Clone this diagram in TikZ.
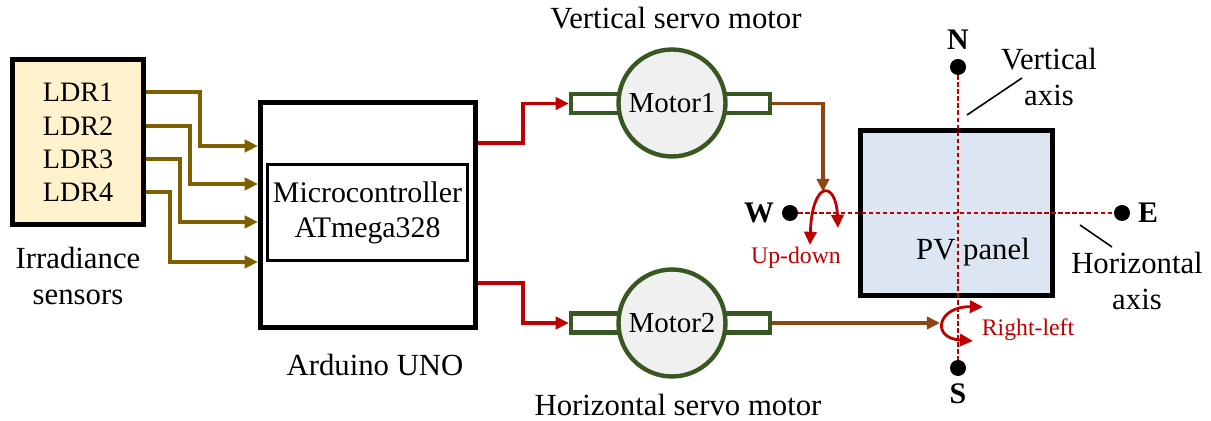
\documentclass[tikz,border=0pt]{standalone}
\usepackage{fontspec}
\setmainfont{Liberation Serif}
\usetikzlibrary{arrows.meta,positioning,calc}
\definecolor{ldrcol}{RGB}{127,96,0}
\definecolor{drvcol}{RGB}{140,70,20}
\definecolor{ctlred}{RGB}{192,0,0}
\definecolor{mgreen}{RGB}{56,87,35}
\definecolor{mgray}{RGB}{240,240,240}
\definecolor{ldrfill}{RGB}{255,242,204}
\definecolor{pvfill}{RGB}{220,230,242}

\begin{document}
\begin{tikzpicture}[x=0.02cm,y=-0.02cm,>={Triangle[length=7.5pt,width=7pt]},
	font=\fontsize{17.5}{20}\selectfont,
	box/.style={draw,line width=3pt,inner sep=0pt},
	motor/.style={circle,draw=mgreen,fill=mgray,line width=2.5pt,minimum size=2.14cm,inner sep=0pt,font=\fontsize{16.5}{20}\selectfont},
	shaft/.style={draw=mgreen,fill=white,line width=2.5pt,minimum height=0.38cm,inner sep=0pt},
	dot/.style={circle,fill=black,minimum size=0.32cm,inner sep=0pt},
	dir/.style={font=\fontsize{17}{20}\selectfont\bfseries},
	ldrline/.style={ldrcol,line width=2pt,->},
	ctl/.style={ctlred,line width=2pt,->},
	drv/.style={drvcol,line width=2pt,->},
	axis/.style={ctlred,line width=1.2pt,dash pattern=on 2.5pt off 1.5pt},
	rot/.style={ctlred,line width=1.6pt,<->},
	rotlab/.style={ctlred,font=\fontsize{13.5}{15}\selectfont},
	lead/.style={black,line width=0.9pt}]
		\useasboundingbox (0,0) rectangle (1211,421);
		% sensors
		\node[box,fill=ldrfill,minimum width=2.62cm,minimum height=3.3cm] (ldr) at (78,142) {};
		\foreach \i/\y in {1/92,2/126,3/159,4/192}{
		\node[font=\fontsize{16}{20}\selectfont] (l\i) at (78,\y) {LDR\i};}
		\node[align=center] (irr) at (78,276) {Irradiance\\sensors};
		% arduino
		\node[box,minimum width=4.3cm,minimum height=4.5cm] (ard) at (368,215) {};
		\node[draw,line width=1.8pt,minimum width=3.92cm,minimum height=1.92cm,align=center,font=\fontsize{17}{20}\selectfont] (mcu) at (367.5,212.5) {Microcontroller\\ATmega328};
		\node (ardlab) at (375,365) {Arduino UNO};
		\foreach \i/\tx/\y in {1/54/146,2/44/184,3/34/222,4/24/262}{
		\coordinate (a\i) at (ard.west |- 0,\y);
		\draw[ldrline] (l\i -| ldr.east) -- ++(\tx,0) |- (a\i);}
		% motors
		\node[shaft,minimum width=1.08cm] (m1l) at (598,103.5) {};
		\node[shaft,minimum width=1.0cm] (m1r) at (745,103.5) {};
		\node[motor] (m1) at (672,103) {Motor1};
		\node (m1lab) at (676,18) {Vertical servo motor};
		\node[shaft,minimum width=1.08cm] (m2l) at (598,323) {};
		\node[shaft,minimum width=1.0cm] (m2r) at (745,323) {};
		\node[motor] (m2) at (672,323) {Motor2};
		\node (m2lab) at (678,405) {Horizontal servo motor};
		\draw[ctl] ([yshift=1.44cm]ard.east) -- ++(45,0) |- (m1l.west);
		\draw[ctl] ([yshift=-1.36cm]ard.east) -- ++(45,0) |- (m2l.west);
		% panel
		\node[box,fill=pvfill,minimum width=3.84cm,minimum height=3.3cm] (pv) at (956.5,213) {};
		\node (pvlab) at (973,252) {PV panel};
		\node[dot] (n) at (958,67) {};
		\node[dot] (s) at (958,368) {};
		\node[dot] (w) at (790,213) {};
		\node[dot] (e) at (1122,213) {};
		\node[dir] at (958,40) {N};
		\node[dir] at (958,394) {S};
		\node[dir] at (759,213) {W};
		\node[dir] at (1148,213) {E};
		\draw[axis] (n) -- (s);
		\draw[axis] (w) -- (e);
		% rotations
		\coordinate (ud) at (823,192);
		\coordinate (rl) at (940,323);
		\draw[drv] (m1r.east) -| (ud);
		\draw[drv] (m2r.east) -- (rl);
		\draw[rot] (810,245) .. controls (812,180) and (836,180) .. (838,228);
		\draw[rot] (983,307) .. controls (938,306) and (930,338) .. (973,341);
		\node[rotlab] at (796,258) {Up-down};
		\node[rotlab] at (1028,330) {Right-left};
		% axis labels
		\node[align=center] (vax) at (1049,77) {Vertical\\axis};
		\node[align=center] (hax) at (1137,281) {Horizontal\\axis};
		\coordinate (vx) at (967,115);
		\coordinate (hx) at (1080,225);
		\draw[lead] (vx) -- (1022,78);
		\draw[lead] (hx) -- (1112,247);
\end{tikzpicture}
\end{document}
